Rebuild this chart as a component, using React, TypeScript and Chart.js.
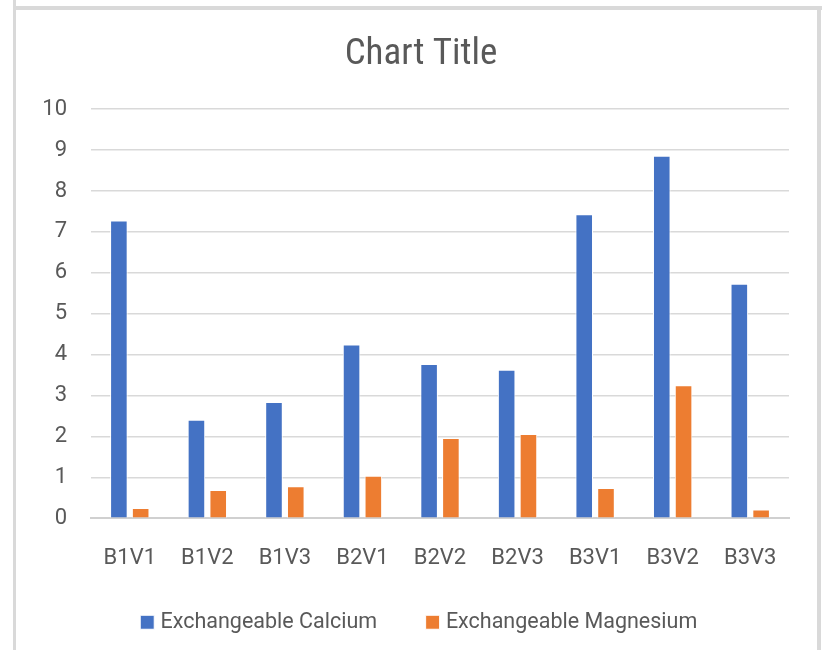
import React, { useEffect, useRef } from "react";
import { Chart, registerables } from "chart.js";

Chart.register(...registerables);

const categories = ["B1V1", "B1V2", "B1V3", "B2V1", "B2V2", "B2V3", "B3V1", "B3V2", "B3V3"];
const calcium = [7.28, 2.41, 2.84, 4.25, 3.77, 3.63, 7.43, 8.86, 5.73];
const magnesium = [0.25, 0.69, 0.78, 1.04, 1.96, 2.06, 0.74, 3.25, 0.21];
const seriesNames = ["Exchangeable Calcium", "Exchangeable Magnesium"];
const yMin = 0;
const yMax = 10;
const yStep = 1;

const TEXT = "#595959";
const GRID = "#d9d9d9";
const PAD_LEFT = 37;

export default function App() {
  const ref = useRef<HTMLCanvasElement | null>(null);

  useEffect(() => {
    if (!ref.current) return;
    const chart = new Chart(ref.current, {
      type: "bar",
      data: {
        labels: categories,
        datasets: [
          {
            label: seriesNames[0],
            data: calcium,
            backgroundColor: "#4472C4",
            borderColor: "#ffffff",
            borderWidth: 1,
            categoryPercentage: 0.562,
            barPercentage: 0.807,
          },
          {
            label: seriesNames[1],
            data: magnesium,
            backgroundColor: "#ED7D31",
            borderColor: "#ffffff",
            borderWidth: 1,
            categoryPercentage: 0.562,
            barPercentage: 0.807,
          },
        ],
      },
      options: {
        animation: false,
        responsive: false,
        devicePixelRatio: 1,
        layout: { padding: { left: PAD_LEFT, right: 28, top: 0, bottom: 7 } },
        plugins: {
          tooltip: { enabled: false },
          title: {
            display: true,
            text: "Chart Title",
            color: TEXT,
            font: { family: '"Liberation Sans Narrow", "Roboto Condensed", Roboto, sans-serif', size: 37, weight: "normal" },
            padding: { top: 22.5, bottom: 32.3 },
          },
          legend: {
            position: "bottom",
            labels: {
              color: TEXT,
              font: { family: "Roboto, sans-serif", size: 21.5 },
              usePointStyle: true,
              pointStyle: "rect",
              boxWidth: 5,
              boxHeight: 14,
              padding: 53,
            },
          },
        },
        scales: {
          x: {
            grid: { display: false },
            border: { display: true, color: "#d0d0d0", width: 2 },
            ticks: { color: TEXT, font: { family: "Roboto, sans-serif", size: 22 }, padding: 19 },
            afterFit: (s: any) => {
              s.height = 40.3;
              s._computeLabelArea = () => undefined;
            },
          },
          y: {
            min: yMin,
            max: yMax,
            ticks: { stepSize: yStep, color: TEXT, font: { family: "Roboto, sans-serif", size: 22 }, padding: 24 },
            grid: { color: GRID, lineWidth: 1.5, drawTicks: false },
            border: { display: false },
            afterFit: (s: any) => {
              s.width = 75 - PAD_LEFT;
              s._computeLabelArea = () => undefined;
            },
          },
        },
      },
    });
    return () => chart.destroy();
  }, []);

  return (
    <div style={{ position: "absolute", left: 0, top: 0, width: 822, height: 650, background: "#fff", overflow: "hidden" }}>
      <div style={{ position: "absolute", left: 13, top: 0, width: 3, height: 650, background: GRID }} />
      <div style={{ position: "absolute", left: 13, top: 6, width: 809, height: 4, background: GRID }} />
      <div style={{ position: "absolute", left: 817, top: 9, width: 4, height: 641, background: GRID }} />
      <canvas ref={ref} width={801} height={640} style={{ position: "absolute", left: 16, top: 10, width: 801, height: 640 }} />
    </div>
  );
}
